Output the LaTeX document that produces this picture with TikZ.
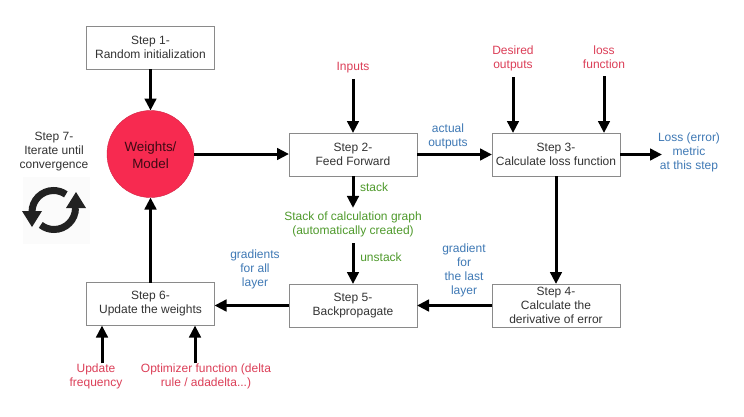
\documentclass[tikz,border=0pt]{standalone}
\usepackage{fontspec}
\setmainfont{Liberation Sans}
\usetikzlibrary{arrows.meta,calc}
\definecolor{boxline}{HTML}{8A8A8A}
\definecolor{inkdark}{HTML}{333333}
\definecolor{redtext}{HTML}{DC3F58}
\definecolor{bluetext}{HTML}{3F79B5}
\definecolor{greentext}{HTML}{4F9A2C}
\definecolor{modelred}{HTML}{F72A50}
\definecolor{iconink}{HTML}{222222}
\definecolor{iconbg}{HTML}{FBFBFB}
\newcommand{\lnstrut}{\rule[-1pt]{0pt}{13pt}}
\tikzset{
  x=1pt,y=-1pt,
  every node/.style={font=\fontsize{12}{14}\selectfont,align=center,inner sep=0pt,outer sep=0pt,
    execute at begin node={\lnstrut},execute at end node={\lnstrut}},
  stepbox/.style={draw=boxline,line width=1pt,fill=white,text=inkdark,minimum width=128pt,minimum height=43pt},
  redlabel/.style={text=redtext},
  bluelabel/.style={text=bluetext},
  greenlabel/.style={text=greentext},
  plainlabel/.style={text=inkdark},
  arr/.style={line width=3pt,-{Triangle[length=12pt,width=11.5pt]},black},
  iconarc/.style={line width=7pt,iconink},
  iconhead/.style={fill=iconink,draw=none},
}
\begin{document}
\begin{tikzpicture}
\useasboundingbox (0,0) rectangle (744,416);
\fill[white] (0,0) rectangle (744,416);

% nodes
\node[stepbox] (s1) at (150.5,47.5) {Step 1-\\Random initialization};
\node[circle,fill=modelred,draw=modelred!85!black,line width=.4pt,minimum size=87pt,text=black!75!modelred,font=\fontsize{13.4}{17}\selectfont] (model) at (150.5,154) {\rule{0pt}{13pt}Weights/\\Model};
\node[stepbox] (s2) at (353,154.5) {Step 2-\\Feed Forward};
\node[stepbox] (s3) at (556,154.5) {Step 3-\\Calculate loss function};
\node[stepbox] (s4) at (556,305.5) {Step 4-\\Calculate the\\derivative of error};
\node[stepbox] (s5) at (353,305.5) {Step 5-\\Backpropagate};
\node[stepbox] (s6) at (150.5,304) {Step 6-\\Update the weights};

\node[redlabel] (inputs) at (353,66) {Inputs};
\node[redlabel] (desired) at (513,58) {Desired\\outputs};
\node[redlabel] (lossfn) at (604,58) {loss\\function};
\node[bluelabel] (actual) at (448,136) {actual\\outputs};
\node[bluelabel] (metric) at (689,152) {Loss (error)\\metric\\at this step};
\node[greenlabel] (stacklab) at (374,186) {stack};
\node[greenlabel] (graph) at (353,224) {Stack of calculation graph\\(automatically created)};
\node[greenlabel] (unstacklab) at (381,256) {unstack};
\node[bluelabel] (gradlast) at (464,270) {gradient\\for\\the last\\layer};
\node[bluelabel] (gradall) at (255,269.5) {gradients\\for all\\layer};
\node[redlabel] (freq) at (96,376) {Update\\frequency};
\node[redlabel] (optim) at (206,376) {Optimizer function (delta\\rule / adadelta...)};
\node[plainlabel] (iter) at (54,152) {Step 7-\\Iterate until\\convergence};

% connectors
\draw[arr] (s1.south) -- (model.north);
\draw[arr] (model.east) -- (s2.west |- model.east);
\draw[arr] ($(inputs.south)+(0,5.5)$) -- (s2.north);
\draw[arr] (s2.east) -- (s3.west);
\draw[arr] ($(desired.south)+(0,6.5)$) -- (desired.south |- s3.north);
\draw[arr] ($(lossfn.south)+(0,6.5)$) -- (lossfn.south |- s3.north);
\draw[arr] (s3.east) -- (662,0 |- s3.east);
\draw[arr] (s2.south) -- ($(graph.north)+(0,-3.5)$);
\draw[arr] ($(graph.south)+(0,6.5)$) -- (s5.north);
\draw[arr] (s3.south) -- (s4.north);
\draw[arr] (s4.west) -- (s5.east);
\draw[arr] (s5.west) -- (s6.east |- s5.west);
\draw[arr] (s6.north) -- (model.south);
\draw[arr] (102,0 |- freq.north) -- (102,0 |- s6.south);
\draw[arr] (195,0 |- optim.north) -- (195,0 |- s6.south);

% sync icon
\fill[iconbg] (23,177) rectangle (90,244);
\draw[iconarc] (32,212) arc[start angle=180,end angle=305,radius=21.5];
\fill[iconhead] (22,211) -- (42,211) -- (32,227) -- cycle;
\draw[iconarc] (75.5,208) arc[start angle=0,end angle=128,radius=21.5];
\fill[iconhead] (66,208) -- (86,208) -- (76,192) -- cycle;
\end{tikzpicture}
\end{document}
